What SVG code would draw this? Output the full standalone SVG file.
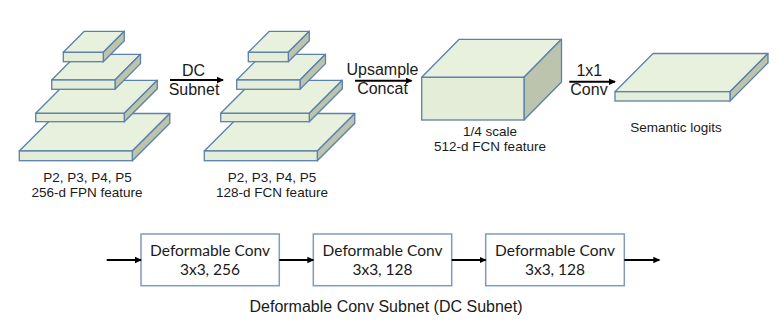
<svg xmlns="http://www.w3.org/2000/svg" xmlns:xlink="http://www.w3.org/1999/xlink" width="782" height="326" viewBox="0 0 782 326">
<style>
.top{fill:#E8F0DE;stroke:#5B80AA;stroke-width:1.3;stroke-linejoin:round}
.side{fill:#BCC4AE;stroke:#5B80AA;stroke-width:1.3;stroke-linejoin:round}
.front{fill:#E4EDD8;stroke:#5B80AA;stroke-width:1.3}
.lbl{font-family:"Liberation Sans",Arial,sans-serif;font-size:13.5px;fill:#1a1a1a;text-anchor:middle}
.alb{font-family:"Liberation Sans",Arial,sans-serif;font-size:16px;fill:#1a1a1a;text-anchor:middle}
.box{fill:#fff;stroke:#7F9CBF;stroke-width:1.5}
.btx{font-family:Lato,"Liberation Sans",sans-serif;font-size:15.5px;fill:#1a1a1a;text-anchor:middle}
.cap{font-family:"Liberation Sans",Arial,sans-serif;font-size:16px;fill:#1a1a1a;text-anchor:middle}
.arr{stroke:#000;stroke-width:2;fill:none;marker-end:url(#ah)}
</style>
<defs>
<marker id="ah" markerWidth="8" markerHeight="8" refX="6" refY="4" orient="auto" markerUnits="userSpaceOnUse">
<path d="M0,0.8 L7,4 L0,7.2 Z" fill="#000"/>
</marker>
<g id="stack">
<!-- S4 -->
<polygon class="top" points="19.3,151 56.8,113.5 169.8,113.5 132.3,151"/>
<polygon class="side" points="132.3,151 169.8,113.5 169.8,123.2 132.3,160.7"/>
<rect class="front" x="19.3" y="151" width="113" height="9.7"/>
<!-- S3 -->
<polygon class="top" points="35.7,113.3 68.7,80.3 157.3,80.3 124.3,113.3"/>
<polygon class="side" points="124.3,113.3 157.3,80.3 157.3,88.7 124.3,121.7"/>
<rect class="front" x="35.7" y="113.3" width="88.6" height="8.4"/>
<!-- S2 -->
<polygon class="top" points="51.7,80 77.2,54.3 140.5,54.3 115,80"/>
<polygon class="side" points="115,80 140.5,54.3 140.5,63.6 115,89.3"/>
<rect class="front" x="51.7" y="80" width="63.3" height="9.3"/>
<!-- S1 -->
<polygon class="top" points="63.3,52.3 84.3,31.3 124.3,31.3 103.3,52.3"/>
<polygon class="side" points="103.3,52.3 124.3,31.3 124.3,40.7 103.3,61.7"/>
<rect class="front" x="63.3" y="52.3" width="40" height="9.4"/>
</g>
</defs>

<g id="fpn">
<use xlink:href="#stack"/>
<text class="lbl" x="87.5" y="182">P2, P3, P4, P5</text>
<text class="lbl" x="87" y="197">256-d FPN feature</text>
</g>

<g id="fcn">
<use xlink:href="#stack" transform="translate(185,0)"/>
<text class="lbl" x="272" y="182">P2, P3, P4, P5</text>
<text class="lbl" x="272" y="197">128-d FCN feature</text>
</g>

<g id="cube">
<polygon class="top" points="421.7,77.3 459.2,39.3 561.5,39.3 524,77.3"/>
<polygon class="side" points="524,77.3 561.5,39.3 561.5,82 524,120"/>
<rect class="front" x="421.7" y="77.3" width="102.3" height="42.7"/>
<text class="lbl" x="490" y="136">1/4 scale</text>
<text class="lbl" x="490" y="151">512-d FCN feature</text>
</g>

<g id="logits">
<polygon class="top" points="615,91.7 653,53.5 768,53.5 730,91.7"/>
<polygon class="side" points="730,91.7 768,53.5 768,62.8 730,101"/>
<rect class="front" x="615" y="91.7" width="115" height="9.3"/>
<text class="lbl" x="676" y="132">Semantic logits</text>
</g>

<g id="dc1">
<rect class="box" x="141" y="234" width="138.3" height="51.7"/>
<text class="btx" x="210" y="256">Deformable Conv</text>
<text class="btx" x="210" y="274.5">3x3, 256</text>
</g>
<g id="dc2">
<rect class="box" x="313.3" y="234" width="138.4" height="51.7"/>
<text class="btx" x="382.5" y="256">Deformable Conv</text>
<text class="btx" x="382.5" y="274.5">3x3, 128</text>
</g>
<g id="dc3">
<rect class="box" x="485.7" y="234" width="138.6" height="51.7"/>
<text class="btx" x="555" y="256">Deformable Conv</text>
<text class="btx" x="555" y="274.5">3x3, 128</text>
</g>

<g id="connectors">
<line class="arr" x1="170" y1="80" x2="223" y2="80"/>
<line class="arr" x1="355" y1="80.7" x2="411.5" y2="80.7"/>
<line class="arr" x1="569.3" y1="81.7" x2="615" y2="81.7"/>
<line class="arr" x1="106.7" y1="260" x2="141" y2="260"/>
<line class="arr" x1="279.3" y1="260" x2="313.3" y2="260"/>
<line class="arr" x1="451.7" y1="260" x2="485.7" y2="260"/>
<line class="arr" x1="624.3" y1="260" x2="659.3" y2="260"/>
<text class="alb" x="193.5" y="75.5">DC</text>
<text class="alb" x="194" y="94.5">Subnet</text>
<text class="alb" x="382.5" y="75">Upsample</text>
<text class="alb" x="382.5" y="94">Concat</text>
<text class="alb" x="589.3" y="76">1x1</text>
<text class="alb" x="589" y="95">Conv</text>
</g>

<text class="cap" x="386" y="311.7">Deformable Conv Subnet (DC Subnet)</text>
</svg>
